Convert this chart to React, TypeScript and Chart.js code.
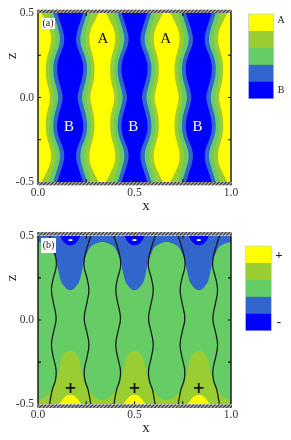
import React, { useEffect, useRef } from "react";
import { Chart, registerables } from "chart.js";

Chart.register(...registerables);

const SERIF = "'Liberation Serif', 'Times New Roman', serif";
const YELLOW = "#ffff00";
const OLIVE = "#9acd32";
const GREEN = "#66cc66";
const ROYAL = "#3366cc";
const BLUE = "#0000ff";
const legendColors = [YELLOW, OLIVE, GREEN, ROYAL, BLUE];

const xTicks = [0, 0.5, 1];
const zTicks = [-0.5, 0, 0.5];
const minorTicks = [0.25, 0.5, 0.75];
const zMinorTicks = [-0.25, 0, 0.25];

// Panel (a): half-widths of the stripes around each A domain, by height.
const zLevelsA = [-0.5, -0.45, -0.4, -0.35, -0.3, -0.25, -0.2, -0.15, -0.1, -0.05, 0, 0.05, 0.1, 0.15, 0.2, 0.25, 0.3, 0.35, 0.4, 0.45, 0.5];
const royalHalf = [0.1, 0.114, 0.128, 0.136, 0.13, 0.113, 0.101, 0.1, 0.108, 0.12, 0.128, 0.12, 0.108, 0.1, 0.101, 0.113, 0.13, 0.136, 0.128, 0.114, 0.1];
const greenHalf = [0.079, 0.093, 0.106, 0.114, 0.108, 0.092, 0.081, 0.08, 0.086, 0.098, 0.105, 0.098, 0.086, 0.08, 0.081, 0.092, 0.108, 0.114, 0.106, 0.093, 0.079];
const oliveHalf = [0.057, 0.07, 0.083, 0.09, 0.085, 0.07, 0.061, 0.06, 0.065, 0.076, 0.083, 0.076, 0.065, 0.06, 0.061, 0.07, 0.085, 0.09, 0.083, 0.07, 0.057];
const yellowHalf = [0.019, 0.041, 0.06, 0.067, 0.062, 0.05, 0.042, 0.041, 0.045, 0.055, 0.062, 0.055, 0.045, 0.041, 0.042, 0.05, 0.062, 0.067, 0.06, 0.041, 0.019];
const centersA = [0, 1 / 3, 2 / 3, 1];

// Panel (b): contour shapes, as distance from a column centre and height.
const centersB = [1 / 6, 1 / 2, 5 / 6];
const oliveDx = [0, 0.016, 0.031, 0.047, 0.059, 0.076, 0.093, 0.12, 0.145, 0.167];
const oliveZ = [-0.182, -0.186, -0.2, -0.235, -0.305, -0.374, -0.41, -0.449, -0.468, -0.473];
const royalDx = [0, 0.016, 0.031, 0.047, 0.057, 0.064, 0.076, 0.088, 0.1, 0.135, 0.167];
const royalZ = [0.176, 0.182, 0.2, 0.228, 0.27, 0.308, 0.368, 0.398, 0.425, 0.453, 0.463];
const blueDx = [0, 0.016, 0.031, 0.042, 0.052];
const blueZ = [0.443, 0.447, 0.46, 0.475, 0.5];
const yellowDx = [0, 0.016, 0.031, 0.047, 0.059];
const yellowZ = [-0.443, -0.447, -0.46, -0.483, -0.5];
const waveZ = [-0.5, -0.415, -0.355, -0.296, -0.217, -0.148, -0.079, -0.01, 0.03, 0.109, 0.178, 0.245, 0.31, 0.36, 0.43, 0.5];
const waveDx = [0.107, 0.093, 0.076, 0.073, 0.088, 0.097, 0.088, 0.074, 0.074, 0.088, 0.097, 0.088, 0.073, 0.073, 0.088, 0.107];

const labelsA = ["A", "A", "B", "B", "B"];
const labelsAX = [0.337, 0.661, 0.161, 0.493, 0.827];
const labelsAZ = [0.344, 0.344, -0.173, -0.173, -0.173];
const labelsAColor = ["#111111", "#111111", "#ffffff", "#ffffff", "#ffffff"];
const labelsB = ["+", "+", "+", "-", "-", "-"];
const labelsBX = [0.168, 0.5, 0.833, 0.168, 0.5, 0.833];
const labelsBZ = [-0.41, -0.41, -0.41, 0.468, 0.468, 0.468];
const labelsBColor = ["#111111", "#111111", "#111111", "#ffffff", "#ffffff", "#ffffff"];

function fillSet(data: any[], color: string, target: number, i: number, monotone = false) {
  return {
    data,
    backgroundColor: color,
    borderColor: color,
    borderWidth: 0,
    pointRadius: 0,
    fill: { value: target },
    tension: 0.4,
    cubicInterpolationMode: monotone ? "monotone" : "default",
    order: -i,
  };
}

function buildA() {
  const out: any[] = [];
  const add = (c: number, sign: number, half: number[], color: string) => {
    const data = zLevelsA.map((z, k) => ({ x: c + sign * half[k], y: z }));
    out.push(fillSet(data, color, 1, out.length));
  };
  add(0, 0, royalHalf, YELLOW);
  centersA.forEach((c) => {
    if (c > 0) {
      add(c, -1, royalHalf, ROYAL);
      add(c, -1, greenHalf, GREEN);
      add(c, -1, oliveHalf, OLIVE);
      add(c, -1, yellowHalf, YELLOW);
    }
    if (c < 1) {
      add(c, 1, yellowHalf, OLIVE);
      add(c, 1, oliveHalf, GREEN);
      add(c, 1, greenHalf, ROYAL);
      add(c, 1, royalHalf, BLUE);
    }
  });
  return out;
}

function profile(c: number, dx: number[], z: number[]) {
  const left = dx.map((d, k) => ({ x: c - d, y: z[k] })).reverse();
  const right = dx.slice(1).map((d, k) => ({ x: c + d, y: z[k + 1] }));
  return [...left, ...right];
}

function periodic(dx: number[], z: number[]) {
  const pts: any[] = [];
  centersB.forEach((c, n) => {
    const p = profile(c, dx, z);
    pts.push(...(n === 0 ? p : p.slice(1)));
  });
  return pts;
}

function buildB() {
  const out: any[] = [];
  out.push(fillSet([{ x: 0, y: -0.5 }, { x: 1, y: -0.5 }], GREEN, 0.5, out.length));
  out.push(fillSet(periodic(royalDx, royalZ), ROYAL, 0.5, out.length, true));
  out.push(fillSet(periodic(oliveDx, oliveZ), OLIVE, -0.5, out.length, true));
  centersB.forEach((c) => out.push(fillSet(profile(c, blueDx, blueZ), BLUE, 0.5, out.length, true)));
  centersB.forEach((c) => out.push(fillSet(profile(c, yellowDx, yellowZ), YELLOW, -0.5, out.length, true)));
  centersB.forEach((c) => {
    [-1, 1].forEach((s) => {
      out.push({
        data: waveZ.map((z, k) => ({ x: c + s * waveDx[k], y: z })),
        borderColor: "#111111",
        borderWidth: 1.2,
        pointRadius: 0,
        fill: false,
        tension: 0.4,
        order: -out.length,
      });
    });
  });
  return out;
}

type PanelCfg = {
  height: number;
  top: number;
  bottom: number;
  indexAxis: "x" | "y";
  datasets: any[];
  tag: string;
  tagBox: number[];
  texts: string[];
  textX: number[];
  textZ: number[];
  textColor: string[];
  textFont: string[];
  bar: number[];
  barTop: string;
  barBottom: string;
  barTextFont: string;
  barTextX: number;
  barTextY: number[];
  zTitleY: number;
  xTitleY: number;
};

function panelPlugin(cfg: PanelCfg) {
  return {
    id: "panelDecor",
    afterDatasetsDraw(chart: any) {
      const { ctx, chartArea: a, scales } = chart;
      const sx = scales.x;
      const sy = scales.y;
      ctx.save();
      // hatched walls
      [[a.top - 3.6, 3.6], [a.bottom, 3.6]].forEach(([y, h]) => {
        ctx.save();
        ctx.beginPath();
        ctx.rect(a.left - 1, y, a.right - a.left + 2, h);
        ctx.clip();
        ctx.fillStyle = "#a6a6a6";
        ctx.fill();
        ctx.strokeStyle = "#3c3c3c";
        ctx.lineWidth = 1.1;
        for (let px = a.left - 6; px < a.right + 6; px += 3.6) {
          ctx.beginPath();
          ctx.moveTo(px, y + h);
          ctx.lineTo(px + h, y);
          ctx.stroke();
        }
        ctx.restore();
      });
      // frame
      ctx.strokeStyle = "#111111";
      ctx.lineWidth = 1.4;
      ctx.beginPath();
      ctx.moveTo(a.left, a.top);
      ctx.lineTo(a.left, a.bottom);
      ctx.moveTo(a.right, a.top);
      ctx.lineTo(a.right, a.bottom);
      ctx.stroke();
      // inward ticks
      ctx.lineWidth = 1.1;
      ctx.beginPath();
      minorTicks.forEach((v) => {
        const px = sx.getPixelForValue(v);
        ctx.moveTo(px, a.bottom);
        ctx.lineTo(px, a.bottom - 3);
        ctx.moveTo(px, a.top);
        ctx.lineTo(px, a.top + 3);
      });
      zMinorTicks.forEach((v) => {
        const py = sy.getPixelForValue(v);
        ctx.moveTo(a.left, py);
        ctx.lineTo(a.left + 3, py);
        ctx.moveTo(a.right, py);
        ctx.lineTo(a.right - 3, py);
      });
      ctx.stroke();
      // panel tag
      ctx.fillStyle = "#ffffff";
      ctx.fillRect(cfg.tagBox[0], cfg.tagBox[1], cfg.tagBox[2], cfg.tagBox[3]);
      ctx.fillStyle = "#222222";
      ctx.font = `10px ${SERIF}`;
      ctx.textAlign = "center";
      ctx.textBaseline = "middle";
      ctx.fillText(cfg.tag, cfg.tagBox[0] + cfg.tagBox[2] / 2, cfg.tagBox[1] + cfg.tagBox[3] / 2);
      // region labels
      cfg.texts.forEach((t, i) => {
        ctx.fillStyle = cfg.textColor[i];
        ctx.font = cfg.textFont[i];
        ctx.fillText(t, sx.getPixelForValue(cfg.textX[i]), sy.getPixelForValue(cfg.textZ[i]));
      });
      // colour key
      const [bx, by, bw, bh] = cfg.bar;
      const step = bh / legendColors.length;
      legendColors.forEach((c, i) => {
        ctx.fillStyle = c;
        ctx.fillRect(bx, by + i * step, bw, step + 0.3);
      });
      ctx.strokeStyle = "#b8c4f4";
      ctx.lineWidth = 0.6;
      ctx.strokeRect(bx, by, bw, bh);
      ctx.fillStyle = "#222222";
      ctx.font = cfg.barTextFont;
      ctx.fillText(cfg.barTop, cfg.barTextX, cfg.barTextY[0]);
      ctx.fillText(cfg.barBottom, cfg.barTextX, cfg.barTextY[1]);
      // axis letters
      ctx.fillStyle = "#222222";
      ctx.font = `15px ${SERIF}`;
      ctx.fillText("x", 146, cfg.xTitleY);
      ctx.save();
      ctx.translate(12, cfg.zTitleY);
      ctx.rotate(-Math.PI / 2);
      ctx.fillText("z", 0, 0);
      ctx.restore();
      ctx.restore();
    },
  };
}

function makeChart(canvas: HTMLCanvasElement, cfg: PanelCfg) {
  const tickFont = { family: SERIF, size: 11.5 };
  return new Chart(canvas, {
    type: "line",
    data: { datasets: cfg.datasets },
    plugins: [panelPlugin(cfg)],
    options: {
      responsive: false,
      animation: false,
      indexAxis: cfg.indexAxis,
      layout: { padding: { left: 0, right: 60, top: cfg.top, bottom: 0 } },
      plugins: { legend: { display: false }, tooltip: { enabled: false }, filler: { propagate: false } },
      scales: {
        x: {
          type: "linear",
          min: 0,
          max: 1,
          grid: { display: false, drawTicks: false },
          border: { display: false },
          afterBuildTicks: (s: any) => {
            s.ticks = xTicks.map((value) => ({ value }));
          },
          afterFit: (s: any) => {
            s.height = cfg.height - cfg.bottom;
          },
          ticks: {
            font: tickFont,
            color: "#333333",
            padding: 4,
            maxRotation: 0,
            autoSkip: false,
            callback: (v: any) => Number(v).toFixed(1),
          },
        },
        y: {
          type: "linear",
          min: -0.5,
          max: 0.5,
          grid: { display: false, drawTicks: false },
          border: { display: false },
          afterBuildTicks: (s: any) => {
            s.ticks = zTicks.map((value) => ({ value }));
          },
          afterFit: (s: any) => {
            s.width = 38;
          },
          ticks: {
            font: tickFont,
            color: "#333333",
            padding: 4,
            autoSkip: false,
            callback: (v: any) => Number(v).toFixed(1),
          },
        },
      },
    } as any,
  });
}

export default function App() {
  const aRef = useRef<HTMLCanvasElement>(null);
  const bRef = useRef<HTMLCanvasElement>(null);
  useEffect(() => {
    const big = `15px ${SERIF}`;
    const a = makeChart(aRef.current!, {
      height: 215,
      top: 13,
      bottom: 182,
      indexAxis: "y",
      datasets: buildA(),
      tag: "(a)",
      tagBox: [41, 18, 14, 11],
      texts: labelsA,
      textX: labelsAX,
      textZ: labelsAZ,
      textColor: labelsAColor,
      textFont: labelsA.map(() => big),
      bar: [248.5, 14, 25.2, 84.7],
      barTop: "A",
      barBottom: "B",
      barTextFont: `10px ${SERIF}`,
      barTextX: 281,
      barTextY: [20.7, 90],
      zTitleY: 56,
      xTitleY: 206,
    });
    const b = makeChart(bRef.current!, {
      height: 225,
      top: 20.7,
      bottom: 189.3,
      indexAxis: "x",
      datasets: buildB(),
      tag: "(b)",
      tagBox: [41, 23, 15, 15],
      texts: labelsB,
      textX: labelsBX,
      textZ: labelsBZ,
      textColor: labelsBColor,
      textFont: labelsB.map((t) => (t === "+" ? "bold 15px 'DejaVu Sans'" : "bold 12px 'DejaVu Sans'")),
      bar: [245.5, 31, 25.8, 84.7],
      barTop: "+",
      barBottom: "-",
      barTextFont: `bold 13px ${SERIF}`,
      barTextX: 279,
      barTextY: [40.7, 108],
      zTitleY: 63,
      xTitleY: 213,
    });
    return () => {
      a.destroy();
      b.destroy();
    };
  }, []);
  return (
    <div style={{ position: "absolute", left: 0, top: 0, width: 291, height: 440 }}>
      <canvas ref={aRef} width={291} height={215} style={{ position: "absolute", left: 0, top: 0, display: "block" }} />
      <canvas ref={bRef} width={291} height={225} style={{ position: "absolute", left: 0, top: 215, display: "block" }} />
    </div>
  );
}
